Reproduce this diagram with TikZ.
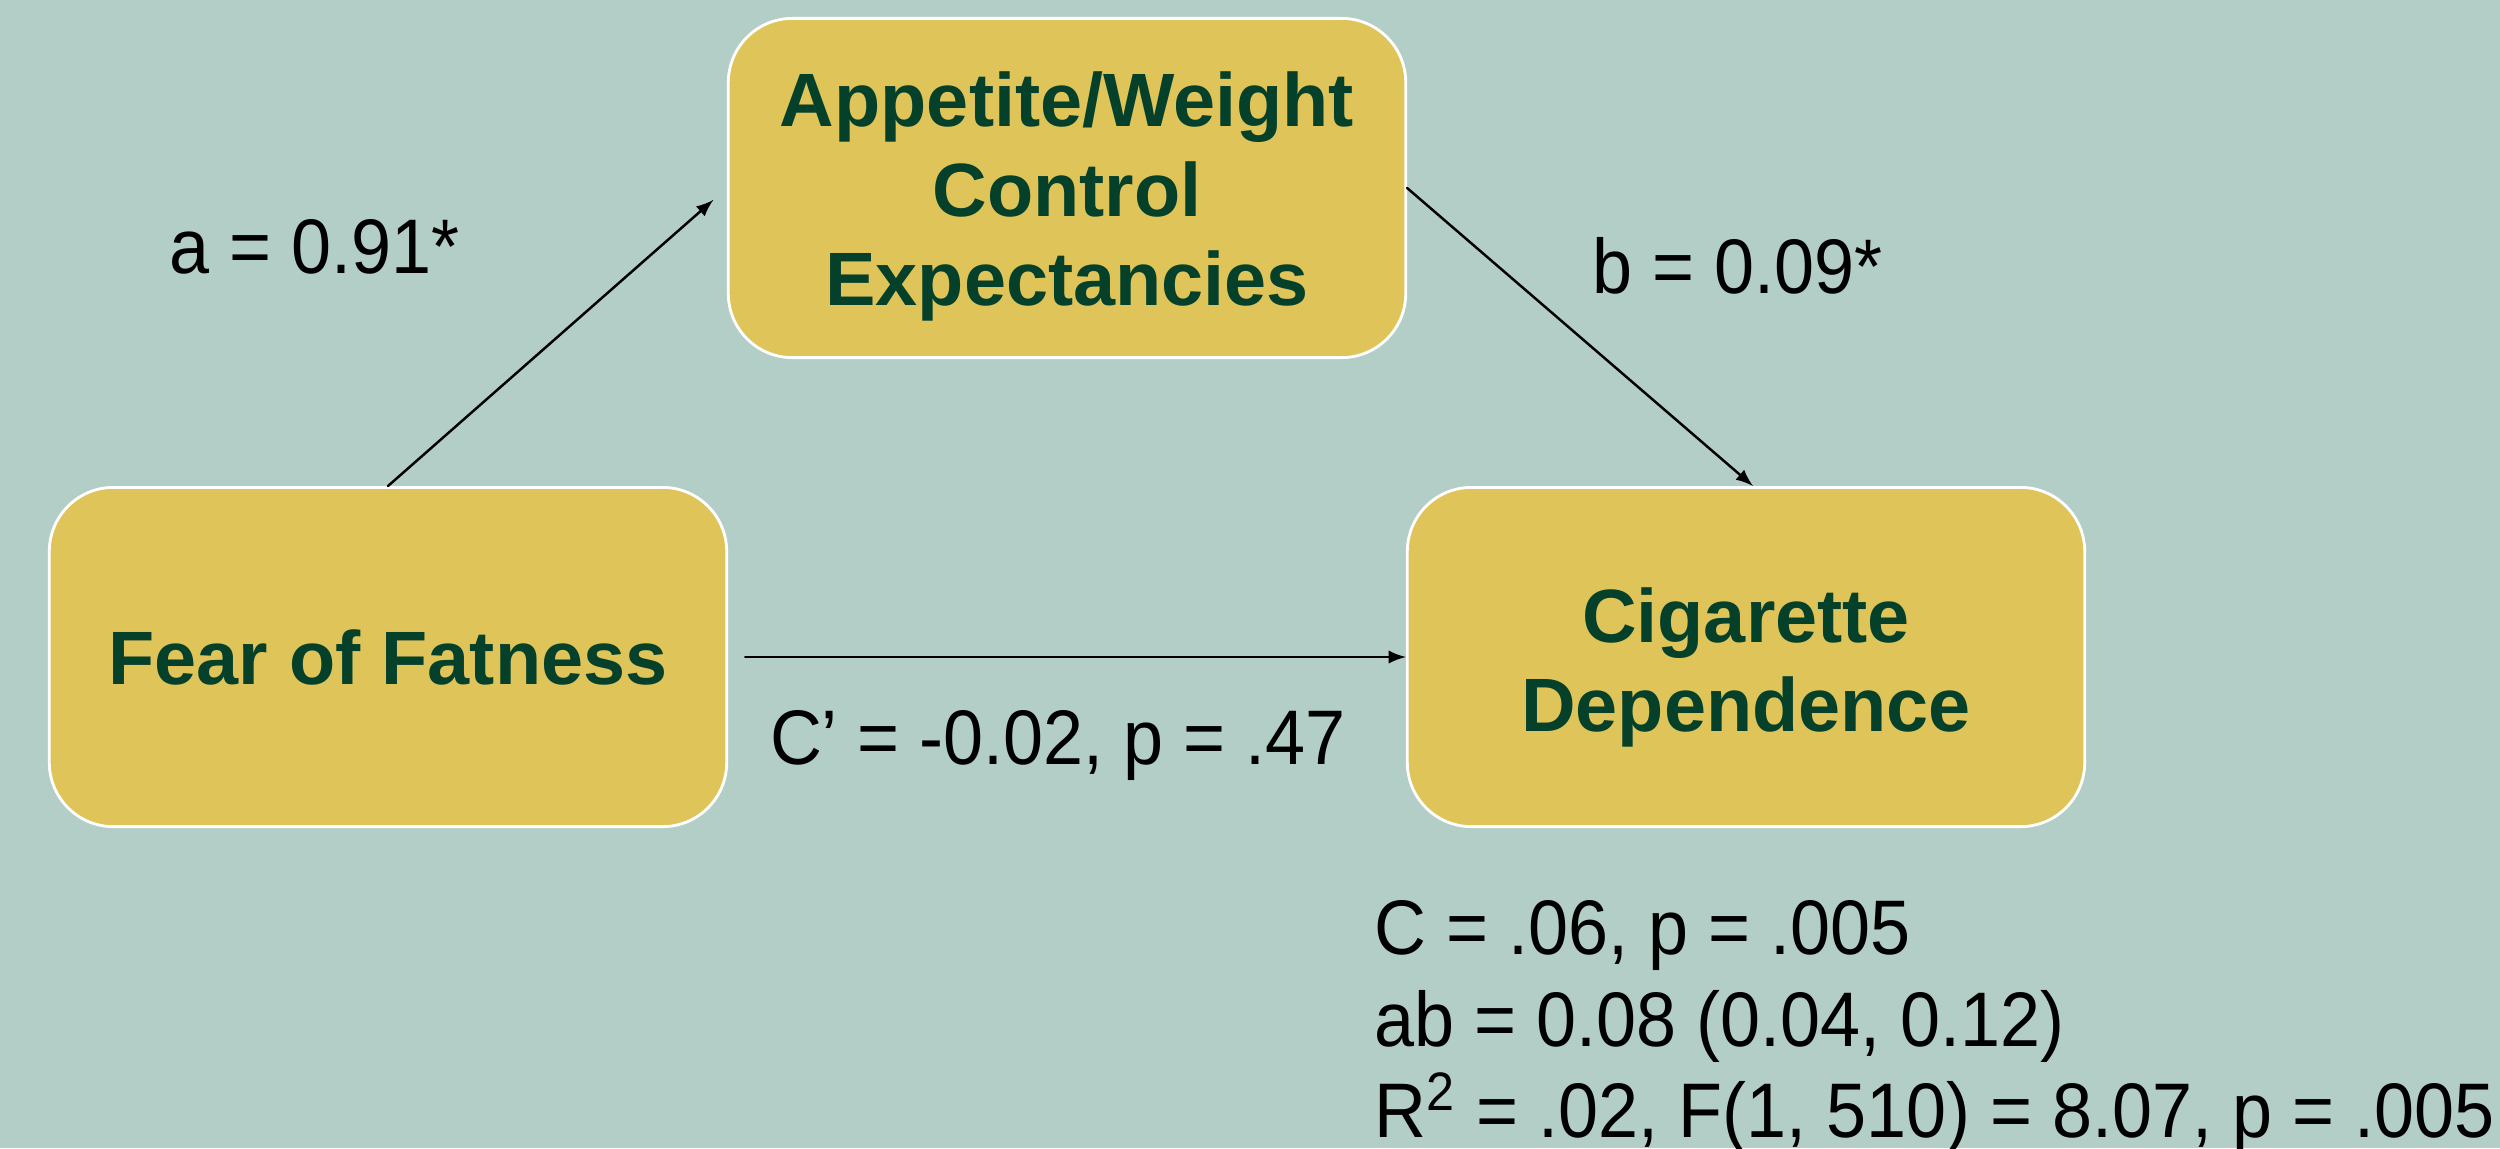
\documentclass[tikz,border=0pt]{standalone}
\usepackage{fontspec}
\setmainfont{Liberation Sans}
\newfontfamily\coeffont[FakeStretch=0.93]{Liberation Sans}
\usetikzlibrary{calc}
\definecolor{sage}{RGB}{179,206,198}
\definecolor{mustard}{RGB}{223,196,89}
\definecolor{pine}{RGB}{5,64,42}

\begin{document}
\begin{tikzpicture}[x=0.01cm, y=-0.01cm, line cap=round, line join=round,
    varbox/.style={draw=white, line width=0.8pt, fill=mustard, rounded corners=0.64cm,
        minimum width=6.77cm, minimum height=3.39cm, align=center, text=pine,
        font=\bfseries\fontsize{21.5}{25.5}\selectfont},
    coef/.style={font=\coeffont\fontsize{22}{26}\selectfont, text=black, inner sep=0pt},
    path/.style={-latex, line width=0.7pt}]
    %Background
    \fill[sage] (0,0) rectangle (2500,1148);
    \useasboundingbox (0,0) rectangle (2500,1148);

    %Boxes
    \node[varbox, text height=71.5pt] (appetite) at (1067,188) {Appetite/Weight\\Control\\Expectancies};
    \node[varbox] (fear) at (388,657) {Fear of Fatness};
    \node[varbox, text height=47pt] (cig) at (1746,657) {Cigarette\\Dependence};

    %Paths
    \draw[path, shorten >=0.18cm] (fear.north) -- (appetite.west);
    \draw[path] (appetite.east) -- ($(cig.north)+(7,0)$);
    \draw[path, shorten <=0.17cm] (fear.east) -- (cig.west);

    %Coefficients
    \node[coef] (a) at (315,247) {a = 0.91*};
    \node[coef] (b) at (1738,266) {b = 0.09*};
    \node[coef] (cprime) at (1058,746) {C’ = -0.02, p = .47};
    \node[coef, align=left, anchor=west] (total) at (1374,1027)
        {C = .06, p = .005\\ab = 0.08 (0.04, 0.12)\\R\textsuperscript{2} = .02, F(1, 510) = 8.07, p = .005};
\end{tikzpicture}
\end{document}
